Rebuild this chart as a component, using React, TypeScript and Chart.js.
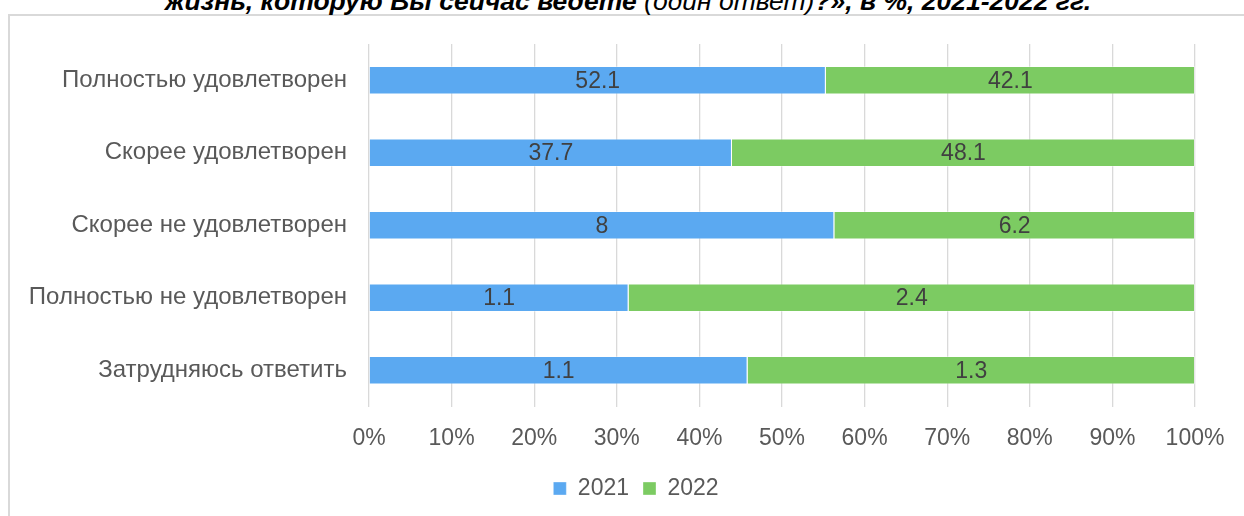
import React, { useEffect, useRef } from "react";
import { Chart, registerables } from "chart.js";

Chart.register(...registerables);

const categories = [
  "Полностью удовлетворен",
  "Скорее удовлетворен",
  "Скорее не удовлетворен",
  "Полностью не удовлетворен",
  "Затрудняюсь ответить",
];
const seriesNames = ["2021", "2022"];
const values2021 = [52.1, 37.7, 8, 1.1, 1.1];
const values2022 = [42.1, 48.1, 6.2, 2.4, 1.3];
const xTickValues = [0, 10, 20, 30, 40, 50, 60, 70, 80, 90, 100];

const FONT = "'Liberation Sans', Arial, sans-serif";

const share = (a: number[], b: number[], mine: number[]) =>
  mine.map((v, i) => (v / (a[i] + b[i])) * 100);

const dataLabelPlugin = {
  id: "dataLabels",
  afterDatasetsDraw(chart: any) {
    const ctx = chart.ctx;
    ctx.save();
    ctx.font = `23px ${FONT}`;
    ctx.fillStyle = "#404040";
    ctx.textAlign = "center";
    ctx.textBaseline = "middle";
    chart.data.datasets.forEach((ds: any, di: number) => {
      const meta = chart.getDatasetMeta(di);
      meta.data.forEach((el: any, i: number) => {
        const cx = (el.x + el.base) / 2;
        ctx.fillText(String(ds.rawValues[i]), cx, el.y + 1);
      });
    });
    ctx.restore();
  },
};

// Centre the legend on a band that is wider than the chart area (as in the original).
const legendBandPlugin = {
  id: "legendBand",
  afterLayout(chart: any) {
    const lg = chart.legend;
    if (!lg) return;
    lg.left = 67;
    lg.right = chart.chartArea.right;
    lg.width = lg.right - lg.left;
  },
};

export default function App() {
  const ref = useRef<HTMLCanvasElement | null>(null);

  useEffect(() => {
    if (!ref.current) return;
    const chart = new Chart(ref.current, {
      type: "bar",
      data: {
        labels: categories,
        datasets: [
          {
            label: seriesNames[0],
            data: share(values2021, values2022, values2021),
            rawValues: values2021,
            backgroundColor: "#5BA9F1",
            borderColor: "rgba(255,255,255,0.35)",
            borderWidth: 1,
            barPercentage: 0.39,
            categoryPercentage: 1,
          } as any,
          {
            label: seriesNames[1],
            data: share(values2021, values2022, values2022),
            rawValues: values2022,
            backgroundColor: "#7CCB62",
            borderColor: "rgba(255,255,255,0.35)",
            borderWidth: 1,
            barPercentage: 0.39,
            categoryPercentage: 1,
          } as any,
        ],
      },
      options: {
        indexAxis: "y",
        animation: false,
        responsive: false,
        maintainAspectRatio: false,
        layout: { padding: { left: 0, right: 49, top: 28, bottom: 0 } },
        scales: {
          x: {
            stacked: true,
            min: 0,
            max: 100,
            afterBuildTicks: (scale: any) => {
              scale.ticks = xTickValues.map((v) => ({ value: v }));
            },
            afterFit: (scale: any) => {
              scale.height = 56.5;
            },
            grid: { color: "#D9D9D9", lineWidth: 1.3, drawTicks: false },
            border: { display: false },
            ticks: {
              padding: 18,
              color: "#595959",
              font: { family: FONT, size: 23 },
              callback: (v: any) => `${v}%`,
            },
          },
          y: {
            stacked: true,
            afterFit: (scale: any) => {
              scale.width = 359;
              scale.paddingTop = 0;
              scale.paddingBottom = 0;
            },
            grid: { display: false, drawTicks: false },
            border: { display: false },
            ticks: {
              padding: 22,
              color: "#595959",
              font: { family: FONT, size: 24 },
            },
          },
        },
        plugins: {
          legend: {
            position: "bottom",
            labels: {
              boxWidth: 13,
              boxHeight: 13,
              padding: 14,
              color: "#595959",
              font: { family: FONT, size: 23 },
            },
          },
          tooltip: { enabled: false },
          title: { display: false },
        },
      } as any,
      plugins: [dataLabelPlugin, legendBandPlugin],
    });
    return () => chart.destroy();
  }, []);

  return (
    <div
      style={{
        position: "fixed",
        left: 0,
        top: 0,
        width: 1244,
        height: 516,
        overflow: "hidden",
        background: "#fff",
      }}
    >
      <div
        style={{
          position: "absolute",
          left: 8,
          top: 14,
          width: 1260,
          height: 540,
          border: "2px solid #D9D9D9",
          boxSizing: "border-box",
        }}
      />
      <div
        style={{
          position: "absolute",
          left: 0,
          top: -12.5,
          width: 1256,
          textAlign: "center",
          fontFamily: FONT,
          fontSize: 26.5,
          lineHeight: "26.5px",
          fontStyle: "italic",
          fontWeight: "bold",
          color: "#000",
          whiteSpace: "nowrap",
        }}
      >
        жизнь, которую Вы сейчас ведете{" "}
        <span style={{ fontWeight: "normal" }}>(один ответ)</span>?», в %, 2021-2022 гг.
      </div>
      <canvas
        ref={ref}
        width={1234}
        height={494}
        style={{ position: "absolute", left: 10, top: 16, width: 1234, height: 494 }}
      />
    </div>
  );
}
